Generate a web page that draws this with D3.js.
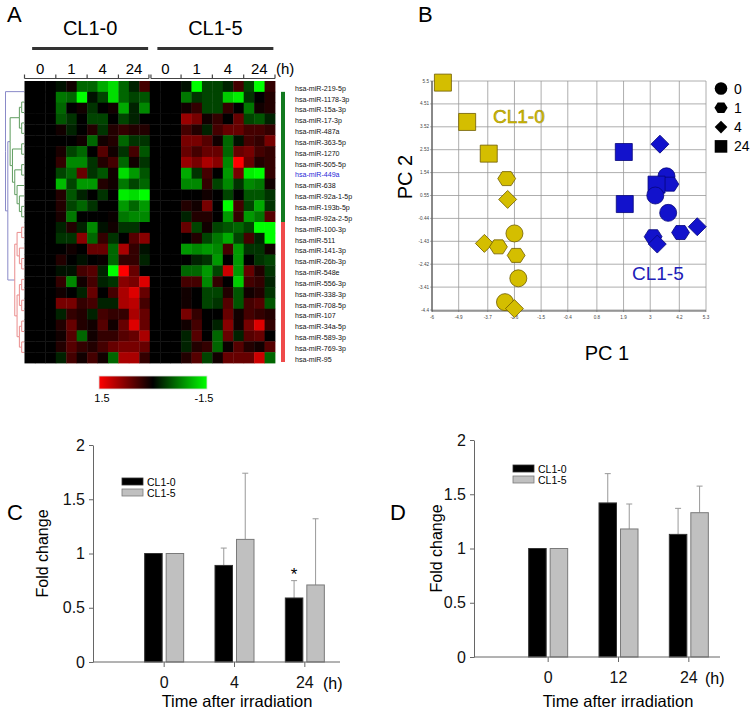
<!DOCTYPE html>
<html>
<head>
<meta charset="utf-8">
<script src="https://cdn.jsdelivr.net/npm/d3@7"></script>
<style>
body { margin: 0; background: #fff; }
text { font-family: "Liberation Sans", Arial, sans-serif; }
</style>
</head>
<body>
<script>
// ---------- panel A : heatmap ----------
const mirnas = ["hsa-miR-219-5p","hsa-miR-1178-3p","hsa-miR-15a-3p","hsa-miR-17-3p","hsa-miR-487a",
  "hsa-miR-363-5p","hsa-miR-1270","hsa-miR-505-5p","hsa-miR-449a","hsa-miR-638","hsa-miR-92a-1-5p",
  "hsa-miR-193b-5p","hsa-miR-92a-2-5p","hsa-miR-100-3p","hsa-miR-511","hsa-miR-141-3p","hsa-miR-26b-3p",
  "hsa-miR-548e","hsa-miR-556-3p","hsa-miR-338-3p","hsa-miR-708-5p","hsa-miR-107","hsa-miR-34a-5p",
  "hsa-miR-589-3p","hsa-miR-769-3p","hsa-miR-95"];
const highlighted = "hsa-miR-449a";
const times = ["0", "1", "4", "24"];
const groups = ["CL1-0", "CL1-5"];

// 3 replicates per time point, 0 h columns are the baseline
const cl10 = [
  [0,0,0,-0.1,0.1,-0.6,-0.6,-1.0,-1.3,-0.6,-0.2,0.4],
  [0,0,0,-0.7,-0.6,-1.5,-0.1,-0.4,-1.3,-0.6,-0.4,-0.5],
  [0,0,0,-0.6,0,0.1,-0.3,0,0.1,-1.0,-0.2,-0.8],
  [0,0,0,-0.5,-0.3,0,-0.4,-0.4,0,-0.4,-0.2,0],
  [0,0,0,0.1,-0.2,0,0.2,-0.3,0.2,0.3,0.2,0.2],
  [0,0,0,0,0,0.1,-0.6,0.1,0.2,-0.6,-0.3,-0.3],
  [0,0,0,0.15,-0.4,-0.6,0,0.5,0.1,-0.3,0.4,-0.5],
  [0,0,0,0.3,-0.8,-0.8,-0.3,0.2,0.4,-0.6,0.1,-0.3],
  [0,0,0,-0.4,-0.6,0.6,-0.3,-0.5,0.1,-1.3,-0.9,-0.5],
  [0,0,0,-1.1,-0.4,-0.9,-0.9,0.2,0.1,-0.7,-0.4,-0.6],
  [0,0,0,0.2,-0.5,-0.2,0,-0.3,0,-1.4,-1.3,-1.5],
  [0,0,0,0.2,-0.4,-0.6,-0.3,0,0,-0.9,-0.6,-0.9],
  [0,0,0,0.15,-0.7,0,0,0,0.05,-0.7,-0.8,-0.8],
  [0,0,0,-0.2,0.2,-0.2,-0.8,-0.1,0.1,-0.3,-0.3,0],
  [0,0,0,-0.3,-0.3,0.8,-0.6,0.3,-0.3,0,0.5,0.8],
  [0,0,0,0,0.1,0,0.6,0.6,-0.6,1.0,0.3,-0.1],
  [0,0,0,0.2,0,-0.1,0,0.05,-0.6,0.3,0.3,-0.2],
  [0,0,0,-0.1,-0.1,0.4,0.5,-0.2,-1.5,1.5,0.6,0],
  [0,0,0,0.3,-0.8,0.1,0.4,-0.2,-0.3,0.8,0.7,1.3],
  [0,0,0,0.1,0,-0.2,0.6,0,0.4,1.0,1.3,0.6],
  [0,0,0,0.7,0.7,0.3,0.4,-0.2,-0.2,1.0,1.1,0.4],
  [0,0,0,-0.2,0.3,0.2,-0.2,0.4,0.3,0.3,1.0,0.6],
  [0,0,0,0.2,0.6,0.2,0.1,0.5,0.1,0.6,1.3,0.6],
  [0,0,0,0.1,0.5,-0.6,0.1,0.3,0.3,0.5,0.6,1.0],
  [0,0,0,0.2,0.5,0.3,0.2,0.4,0.6,0.7,0.7,0.6],
  [0,0,0,-0.2,0.4,0.1,0.4,0.1,-0.6,1.0,1.0,0.3]
];
const cl15 = [
  [0,0,0,-0.1,-1.5,-0.4,-0.4,-0.2,0.4,-0.4,-1.5,0.3],
  [0,0,0,-0.7,-0.3,-0.4,-0.4,-1.2,-1.4,-0.3,0,0.2],
  [0,0,0,0.1,0.3,-0.4,-0.4,0.3,0,-0.7,0.1,0.2],
  [0,0,0,0.9,0.7,0.1,0.3,0,0.6,-0.4,-0.5,-0.2],
  [0,0,0,0.4,0.2,-0.2,0.4,0.6,0.6,0.4,0.4,0.3],
  [0,0,0,0.7,0.7,0.5,0.1,-0.6,-0.1,0.4,0.3,0.7],
  [0,0,0,0.6,0.4,0.6,0.6,-0.6,0.6,0.7,0.4,0.3],
  [0,0,0,0.9,0.7,1.0,0.8,-0.8,1.5,0.6,0.2,0.3],
  [0,0,0,-1.0,-0.3,0.4,0,-0.9,0.7,-1.4,-1.5,0.3],
  [0,0,0,-0.8,-0.8,0.3,-0.4,-0.8,-0.3,-0.8,-0.7,0.1],
  [0,0,0,0,0,0.1,0,-0.4,0,-0.5,-0.5,-0.3],
  [0,0,0,0.2,0.1,0.7,0,-1.5,0.4,-0.4,-1.0,-0.3],
  [0,0,0,-0.2,0.2,0.2,0,-0.9,0.3,-0.9,-0.7,0.5],
  [0,0,0,0.6,-0.4,0.1,-0.4,-0.5,-0.6,-0.4,-1.5,-1.5],
  [0,0,0,0,0.2,-0.4,-0.7,-1.0,-0.4,0.4,-0.2,-1.5],
  [0,0,0,-0.9,-0.8,-0.9,-0.8,0.4,-0.9,-0.3,-0.3,0.1],
  [0,0,0,0,-0.2,-0.3,-0.9,0,-0.9,0,-0.3,-0.4],
  [0,0,0,-0.6,-0.6,-0.9,-0.4,1.2,-0.9,0.6,0.2,-0.3],
  [0,0,0,0.4,0.4,-0.8,0.3,0,-1.2,0.4,0.3,-0.2],
  [0,0,0,0.1,0,-0.4,-0.4,0.2,-0.5,0.1,0.2,-0.3],
  [0,0,0,0.1,0,-0.4,-0.3,0.5,-0.5,0.4,0.5,-0.5],
  [0,0,0,0.7,0.3,0,0,0.6,0.1,0.4,0.3,0.2],
  [0,0,0,0.1,0.4,0,-0.2,0.8,0.1,0.7,1.3,0.3],
  [0,0,0,-0.2,0.5,0,-0.6,0.6,-0.2,0.5,0.6,0],
  [0,0,0,-0.2,0.2,0.3,-0.6,0.05,0.5,0.2,0.1,0.5],
  [0,0,0,0.2,0.5,-0.4,0.1,0.6,0.6,0.6,1.2,-0.6]
];
// dendrogram: row 0 is the outlier, then the green (1-12) and red (13-25) clusters
const tree = [0, [
  [[[1,2],[3,4]], [[5,6],[[7,8],[9,[10,[11,12]]]]]],
  [[[13,14],[15,[16,17]]], [[[18,19],[20,21]], [[22,23],[24,25]]]]
]];

// ---------- panel B : PCA ----------
const pcaCell  = ["CL1-0","CL1-0","CL1-0","CL1-0","CL1-0","CL1-0","CL1-0","CL1-0","CL1-0","CL1-0","CL1-0","CL1-0",
                  "CL1-5","CL1-5","CL1-5","CL1-5","CL1-5","CL1-5","CL1-5","CL1-5","CL1-5","CL1-5","CL1-5","CL1-5"];
const pcaTime  = ["24","24","24","1","4","0","4","1","1","0","0","4",
                  "24","4","0","1","24","0","24","0","4","1","1","4"];
const pcaX = [-5.55,-4.55,-3.66,-2.92,-2.88,-2.60,-3.84,-3.26,-2.53,-2.44,-2.99,-2.60,
              1.91,3.40,3.67,3.81,3.26,3.21,1.95,3.74,4.94,4.25,3.12,3.29];
const pcaY = [5.43,3.73,2.36,1.28,0.38,-1.09,-1.52,-1.67,-2.04,-3.03,-4.06,-4.34,
              2.43,2.77,1.38,1.04,1.02,0.55,0.18,-0.20,-0.80,-1.05,-1.23,-1.55];
const pcaXTicks = [-6,-4.9,-3.7,-2.6,-1.5,-0.4,0.8,1.9,3,4.2,5.3];
const pcaYTicks = [5.5,4.51,3.52,2.53,1.54,0.55,-0.44,-1.43,-2.42,-3.41,-4.4];
const timeShapes = {"0": "circle", "1": "hexagon", "4": "diamond", "24": "square"};

// ---------- panels C and D : fold change ----------
const foldTicks = [0, 0.5, 1, 1.5, 2];
const cTimes = ["0", "4", "24"];
const cMean0 = [1, 0.89, 0.59];
const cErr0  = [0, 0.16, 0.16];
const cMean5 = [1, 1.13, 0.71];
const cErr5  = [0, 0.61, 0.61];
const dTimes = ["0", "12", "24"];
const dMean0 = [1, 1.42, 1.13];
const dErr0  = [0, 0.27, 0.24];
const dMean5 = [1, 1.18, 1.33];
const dErr5  = [0, 0.23, 0.245];

const svg = d3.select("body").append("svg")
  .attr("width", 753).attr("height", 712);

// panel letters
[["A", 7, 22], ["B", 418, 22], ["C", 7, 520], ["D", 390, 520]].forEach(l => {
  svg.append("text").attr("x", l[1]).attr("y", l[2]).attr("font-size", 22).text(l[0]);
});

// ================= heatmap =================
const nRows = mirnas.length;
const hx = d3.scaleBand().domain(d3.range(24)).range([24.5, 275]);
const hy = d3.scaleBand().domain(d3.range(nRows)).range([81, 363]);
const heat = d3.scaleLinear().domain([-1.5, 0, 1.5])
  .range(["#00ff00", "#000000", "#ff0000"]).clamp(true);

const cells = [];
cl10.forEach((row, i) => row.forEach((v, j) => cells.push({r: i, c: j, v: v})));
cl15.forEach((row, i) => row.forEach((v, j) => cells.push({r: i, c: j + 12, v: v})));

svg.append("g").selectAll("rect").data(cells).join("rect")
  .attr("x", d => hx(d.c)).attr("y", d => hy(d.r))
  .attr("width", hx.bandwidth() + 0.4).attr("height", hy.bandwidth() + 0.4)
  .attr("fill", d => heat(d.v));

// group headers + time axis
groups.forEach((g, gi) => {
  const x0 = hx(gi * 12) + (gi ? 1.2 : 0);
  const x1 = hx(gi * 12 + 11) + hx.bandwidth() - (gi ? 0 : 0.8);
  const cx = (hx(gi * 12) + hx(gi * 12 + 11) + hx.bandwidth()) / 2 + 3;
  svg.append("text").attr("x", cx).attr("y", 35).attr("text-anchor", "middle")
    .attr("font-size", 20).text(g);
  svg.append("line").attr("x1", cx - 58).attr("x2", cx + 58).attr("y1", 48.5).attr("y2", 48.5)
    .attr("stroke", "#333").attr("stroke-width", 3);
  svg.append("line").attr("x1", x0).attr("x2", x1).attr("y1", 78.5).attr("y2", 78.5)
    .attr("stroke", "#444").attr("stroke-width", 1.2);
  const bounds = [x0, hx(gi * 12 + 3), hx(gi * 12 + 6), hx(gi * 12 + 9), x1];
  svg.append("g").selectAll("line").data(bounds).join("line")
    .attr("x1", d => d).attr("x2", d => d).attr("y1", 74.5).attr("y2", 78.5)
    .attr("stroke", "#444").attr("stroke-width", 1.2);
  svg.append("g").selectAll("text").data(times).join("text")
    .attr("x", (d, k) => hx(gi * 12 + k * 3) + hx.bandwidth() * 1.5)
    .attr("y", 74).attr("text-anchor", "middle").attr("font-size", 15)
    .text(d => d);
});
svg.append("text").attr("x", 276).attr("y", 74).attr("font-size", 15).text("(h)");

// row labels
svg.append("g").selectAll("text").data(mirnas).join("text")
  .attr("x", 295).attr("y", (d, i) => hy(i) + hy.bandwidth() / 2 + 4.3)
  .attr("font-size", 7.1)
  .attr("fill", d => d === highlighted ? "#2a2ad8" : "#111")
  .text(d => d);

// cluster bars
svg.append("rect").attr("x", 281).attr("width", 4)
  .attr("y", hy(1)).attr("height", hy(13) - hy(1)).attr("fill", "#127a20");
svg.append("rect").attr("x", 281).attr("width", 4)
  .attr("y", hy(13)).attr("height", 362 - hy(13)).attr("fill", "#ef4a4a");

// dendrogram
const root = d3.hierarchy(tree, d => Array.isArray(d) ? d : null);
d3.cluster().size([hy(nRows - 1) - hy(0), 18.5]).separation(() => 1)(root);
const greenRoot = root.children[1].children[0];
const redRoot = root.children[1].children[1];
function linkColor(parent) {
  const anc = parent.ancestors();
  if (anc.includes(greenRoot)) return "#5f9c5f";
  if (anc.includes(redRoot)) return "#ea8c8c";
  return "#8a8ac8";
}
const top0 = hy(0) + hy.bandwidth() / 2;
svg.append("g").selectAll("path").data(root.links()).join("path")
  .attr("d", l => `M${5.5 + l.source.y},${top0 + l.source.x}V${top0 + l.target.x}H${5.5 + l.target.y}`)
  .attr("fill", "none").attr("stroke", l => linkColor(l.source)).attr("stroke-width", 1);

// colour bar
const grad = svg.append("defs").append("linearGradient").attr("id", "hmGrad");
grad.selectAll("stop").data([1.5, 0, -1.5]).join("stop")
  .attr("offset", (d, i) => i * 50 + "%").attr("stop-color", d => heat(d));
svg.append("rect").attr("x", 99).attr("y", 376).attr("width", 108).attr("height", 13)
  .attr("fill", "url(#hmGrad)").attr("stroke", "#ddd").attr("stroke-width", 0.8);
svg.append("text").attr("x", 102).attr("y", 402).attr("text-anchor", "middle").attr("font-size", 11).text("1.5");
svg.append("text").attr("x", 204).attr("y", 402).attr("text-anchor", "middle").attr("font-size", 11).text("-1.5");

// ================= PCA =================
const px = d3.scaleLinear().domain([-6, 5.3]).range([432, 706]);
const py = d3.scaleLinear().domain([-4.4, 5.5]).range([310, 81]);
const pca = svg.append("g");
pca.append("g").selectAll("line").data(pcaXTicks).join("line")
  .attr("x1", d => px(d)).attr("x2", d => px(d)).attr("y1", py(5.5)).attr("y2", py(-4.4) + 2)
  .attr("stroke", "#999").attr("stroke-width", 0.8);
pca.append("g").selectAll("line").data(pcaYTicks).join("line")
  .attr("x1", px(-6) - 2).attr("x2", px(5.3)).attr("y1", d => py(d)).attr("y2", d => py(d))
  .attr("stroke", "#999").attr("stroke-width", 0.8);
pca.append("line").attr("x1", px(-6)).attr("x2", px(-6)).attr("y1", py(5.5)).attr("y2", py(-4.4) + 1.5)
  .attr("stroke", "#555").attr("stroke-width", 1.2);
pca.append("line").attr("x1", px(-6)).attr("x2", px(5.3)).attr("y1", py(-4.4) + 1).attr("y2", py(-4.4) + 1)
  .attr("stroke", "#555").attr("stroke-width", 1.2);
pca.append("g").selectAll("text").data(pcaXTicks).join("text")
  .attr("x", d => px(d)).attr("y", 319).attr("text-anchor", "middle")
  .attr("font-size", 4.6).attr("fill", "#444").text(d => d);
pca.append("g").selectAll("text").data(pcaYTicks).join("text")
  .attr("x", 429).attr("y", d => py(d) + 1.5).attr("text-anchor", "end")
  .attr("font-size", 4.6).attr("fill", "#444").text(d => d);

function shapePath(shape, s) {
  const p = d3.path();
  if (shape === "circle") {
    p.moveTo(s, 0); p.arc(0, 0, s, 0, 2 * Math.PI);
  } else if (shape === "square") {
    p.rect(-s, -s, 2 * s, 2 * s);
  } else if (shape === "diamond") {
    p.moveTo(0, -s); p.lineTo(s, 0); p.lineTo(0, s); p.lineTo(-s, 0);
  } else {
    for (let k = 0; k < 6; k++) {
      const a = k * Math.PI / 3;
      const xx = s * 1.05 * Math.cos(a), yy = s * 0.95 * Math.sin(a);
      if (k === 0) p.moveTo(xx, yy); else p.lineTo(xx, yy);
    }
  }
  p.closePath();
  return p.toString();
}
const cellFill = {"CL1-0": "#d4be00", "CL1-5": "#1212cc"};
const cellStroke = {"CL1-0": "#6f5c00", "CL1-5": "#06067a"};
const shapeSize = {circle: 8.5, square: 8.5, diamond: 9, hexagon: 8.5};
pca.append("g").selectAll("path").data(pcaX).join("path")
  .attr("transform", (d, i) => `translate(${px(d)},${py(pcaY[i])})`)
  .attr("d", (d, i) => shapePath(timeShapes[pcaTime[i]], shapeSize[timeShapes[pcaTime[i]]]))
  .attr("fill", (d, i) => cellFill[pcaCell[i]])
  .attr("stroke", (d, i) => cellStroke[pcaCell[i]]).attr("stroke-width", 0.8);

pca.append("text").attr("x", 493).attr("y", 123).attr("font-size", 19)
  .attr("fill", "#d4be00").attr("stroke", "#9c8a00").attr("stroke-width", 0.5).text("CL1-0");
pca.append("text").attr("x", 632).attr("y", 280).attr("font-size", 19)
  .attr("fill", "#2020b8").text("CL1-5");
pca.append("text").attr("transform", "translate(412,177) rotate(-90)").attr("text-anchor", "middle")
  .attr("font-size", 20).text("PC 2");
pca.append("text").attr("x", 607).attr("y", 360).attr("text-anchor", "middle")
  .attr("font-size", 20).text("PC 1");

// shape legend
const legTimes = ["0", "1", "4", "24"];
const leg = pca.append("g").selectAll("g").data(legTimes).join("g")
  .attr("transform", (d, i) => `translate(721,${88.5 + i * 19.3})`);
leg.append("path").attr("d", d => shapePath(timeShapes[d], 6.3)).attr("fill", "#000");
leg.append("text").attr("x", 13).attr("y", 5).attr("font-size", 14).text(d => d);

// ================= bar panels =================
function barPanel(o) {
  const g = svg.append("g");
  const y = d3.scaleLinear().domain([0, 2]).range([o.yZero, o.yZero - 217]);
  const xb = d3.scaleBand().domain(o.times).range([o.bandStart, o.bandStart + 211]);
  const xs = d3.scaleBand().domain(groups).range([-19.5, 19.5]).paddingInner(0.186);
  const series = [
    {name: "CL1-0", mean: o.m0, err: o.e0, fill: "#000", stroke: "#333"},
    {name: "CL1-5", mean: o.m5, err: o.e5, fill: "#c0c0c0", stroke: "#7a7a7a"}
  ];
  const bars = [];
  series.forEach(s => o.times.forEach((t, i) =>
    bars.push({t: t, s: s, v: s.mean[i], e: s.err[i]})));
  const bx = d => xb(d.t) + xb.bandwidth() / 2 + xs(d.s.name);

  // error bars (upper only)
  const eb = g.append("g").selectAll("g").data(bars.filter(d => d.e > 0)).join("g")
    .attr("stroke", "#999").attr("stroke-width", 1);
  eb.append("line").attr("x1", d => bx(d) + xs.bandwidth() / 2).attr("x2", d => bx(d) + xs.bandwidth() / 2)
    .attr("y1", d => y(d.v)).attr("y2", d => y(d.v + d.e));
  eb.append("line").attr("x1", d => bx(d) + xs.bandwidth() / 2 - 3).attr("x2", d => bx(d) + xs.bandwidth() / 2 + 3)
    .attr("y1", d => y(d.v + d.e)).attr("y2", d => y(d.v + d.e));

  g.append("g").selectAll("rect").data(bars).join("rect")
    .attr("x", d => bx(d)).attr("width", xs.bandwidth())
    .attr("y", d => y(d.v)).attr("height", d => y(0) - y(d.v))
    .attr("fill", d => d.s.fill).attr("stroke", d => d.s.stroke).attr("stroke-width", 1);

  const ya = g.append("g").attr("transform", `translate(${o.axisX},0)`)
    .call(d3.axisLeft(y).tickValues(foldTicks).tickFormat(d => d).tickSize(4).tickSizeOuter(0).tickPadding(4));
  ya.selectAll("path,line").attr("stroke", "#666");
  ya.selectAll("text").attr("font-size", 16).attr("font-family", null).attr("fill", "#111");

  g.append("line").attr("x1", o.axisX).attr("x2", o.axisEnd).attr("y1", y(0)).attr("y2", y(0))
    .attr("stroke", "#666");
  const xa = g.append("g").attr("transform", `translate(0,${y(0)})`)
    .call(d3.axisBottom(xb).tickSize(5).tickSizeOuter(0).tickPadding(10));
  xa.select(".domain").remove();
  xa.selectAll("line").attr("stroke", "#666");
  xa.selectAll("text").attr("font-size", 16).attr("font-family", null).attr("fill", "#111");
  g.append("text").attr("x", o.hX).attr("y", y(0) + 27).attr("font-size", 16).text("(h)");

  g.append("text").attr("x", o.titleX).attr("y", 707).attr("text-anchor", "middle")
    .attr("font-size", 16.5).text("Time after irradiation");
  g.append("text").attr("transform", `translate(${o.ylabX},${y(1)}) rotate(-90)`)
    .attr("text-anchor", "middle").attr("font-size", 16).text("Fold change");

  // legend
  const lg = g.append("g").selectAll("g").data(series).join("g")
    .attr("transform", (d, i) => `translate(${o.legX},${o.legY + i * 11})`);
  lg.append("rect").attr("width", 21).attr("height", 7)
    .attr("fill", d => d.fill).attr("stroke", d => d.stroke).attr("stroke-width", 0.8);
  lg.append("text").attr("x", 25).attr("y", 7.5).attr("font-size", 10.5).text(d => d.name);

  if (o.star) {
    const sb = bars.find(d => d.t === o.star && d.s.name === "CL1-0");
    g.append("text").attr("x", bx(sb) + xs.bandwidth() / 2).attr("y", y(sb.v + sb.e) - 0.5)
      .attr("text-anchor", "middle").attr("font-size", 17).text("*");
  }
}

barPanel({times: cTimes, m0: cMean0, e0: cErr0, m5: cMean5, e5: cErr5,
  yZero: 662, axisX: 93, axisEnd: 340, bandStart: 129, hX: 323, titleX: 237, ylabX: 48,
  legX: 122, legY: 478, star: "24"});
barPanel({times: dTimes, m0: dMean0, e0: dErr0, m5: dMean5, e5: dErr5,
  yZero: 657, axisX: 474, axisEnd: 720, bandStart: 513, hX: 705, titleX: 618, ylabX: 442,
  legX: 513, legY: 465, star: null});
</script>
</body>
</html>
